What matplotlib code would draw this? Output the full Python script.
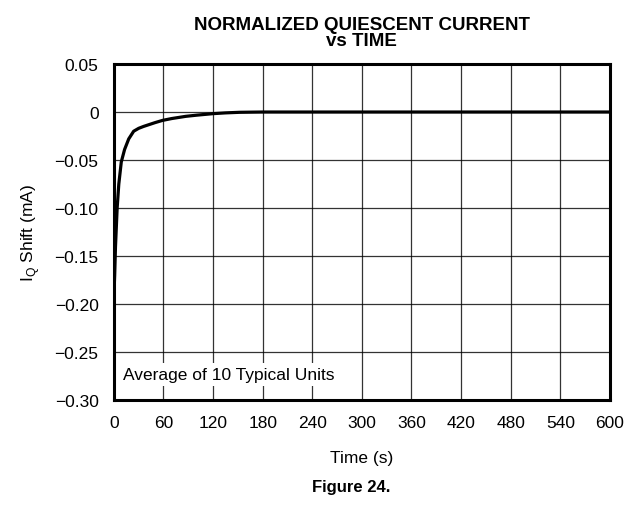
import numpy as np
import matplotlib.pyplot as plt
from matplotlib import font_manager

plt.rcParams['font.family'] = ['Liberation Sans', 'DejaVu Sans']

# curve (time in s, IQ shift in mA)
time_s = [0, 1, 2, 4, 6, 9, 13, 18, 24, 30, 36, 43, 50, 59, 70, 87, 100, 120, 135, 152, 170, 180, 240, 300, 360, 420, 480, 540, 600]
iq_shift = [-0.193, -0.170, -0.140, -0.100, -0.075, -0.052, -0.039, -0.028, -0.020, -0.017, -0.015, -0.013, -0.011,
            -0.0087, -0.0068, -0.0045, -0.0033, -0.0017, -0.0009, -0.0003, -0.0001, 0, 0, 0, 0, 0, 0, 0, 0]

x_ticks = list(range(0, 601, 60))
y_ticks = [0.05, 0, -0.05, -0.10, -0.15, -0.20, -0.25, -0.30]
y_labels = ['0.05', '0', '\u22120.05', '\u22120.10', '\u22120.15', '\u22120.20', '\u22120.25', '\u22120.30']

names = {f.name for f in font_manager.fontManager.ttflist}
title_font = 'Liberation Sans Narrow' if 'Liberation Sans Narrow' in names else 'Liberation Sans'

fig = plt.figure(figsize=(6.36, 5.06), dpi=100)
ax = fig.add_axes([0.179, 0.2075, 0.780, 0.664])

ax.plot(time_s, iq_shift, color='black', lw=2.3, zorder=3)

ax.set_xlim(0, 600)
ax.set_ylim(-0.30, 0.05)
ax.set_xticks(x_ticks)
ax.set_yticks(y_ticks)
ax.set_yticklabels(y_labels)
ax.tick_params(length=0, labelsize=12.5, pad=11)
ax.grid(True, color='black', lw=0.9, alpha=0.8)
for s in ax.spines.values():
    s.set_linewidth(2.2)

ax.set_xlabel('Time (s)', fontsize=12.5, labelpad=14)
ax.set_ylabel('I$_\\mathregular{Q}$ Shift (mA)', fontsize=12.5, labelpad=9)
ax.set_title('NORMALIZED QUIESCENT CURRENT\nvs TIME', fontsize=13.5, fontweight='bold',
             family=[title_font, 'DejaVu Sans'], linespacing=0.9, pad=14)

ax.text(0.018, 0.075, 'Average of 10 Typical Units', transform=ax.transAxes,
        fontsize=12.5, va='center', ha='left', zorder=4,
        bbox=dict(facecolor='white', edgecolor='none', pad=3))

fig.text(0.552, 0.036, 'Figure 24.', fontsize=12, fontweight='bold', ha='center', va='center')

fig.savefig('out.png', dpi=100)
